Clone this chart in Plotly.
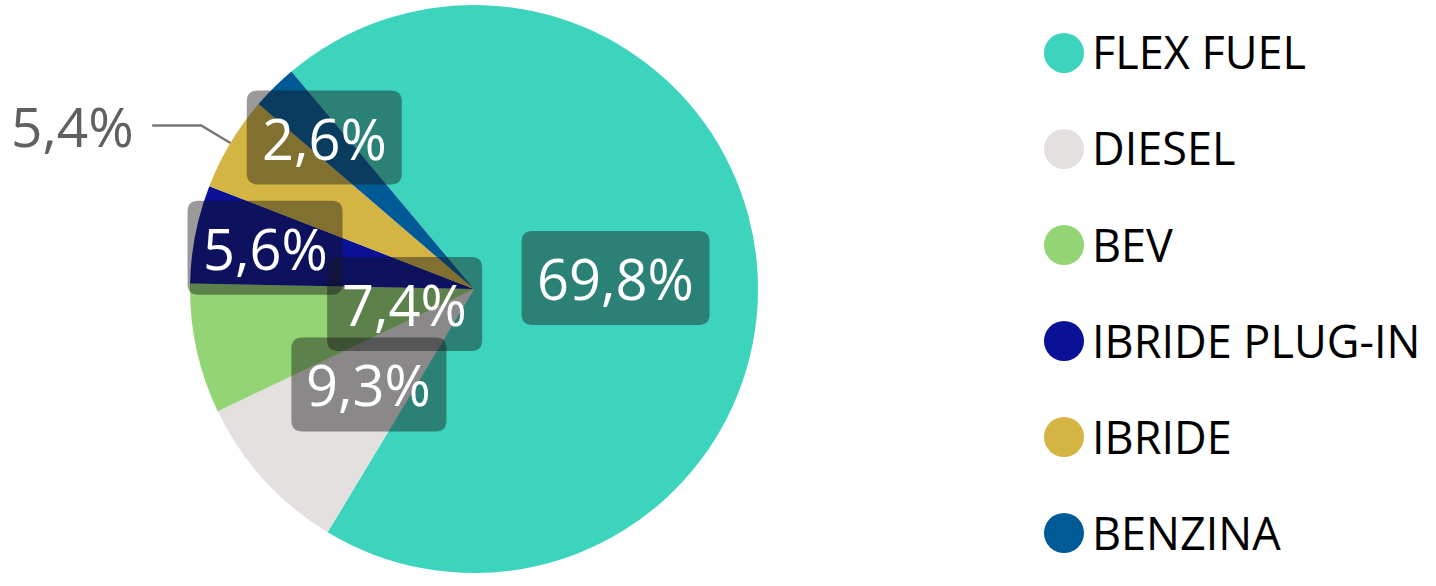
import math
import plotly.graph_objects as go

labels = ["FLEX FUEL", "DIESEL", "BEV", "IBRIDE PLUG-IN", "IBRIDE", "BENZINA"]
values = [69.8, 9.3, 7.4, 5.6, 5.4, 2.6]
pct_text = ["69,8%", "9,3%", "7,4%", "5,6%", "5,4%", "2,6%"]
colors = ["#3DD4BE", "#E3E0DF", "#93D475", "#0A1196", "#D4B544", "#005A96"]

W, H = 1436, 586
pie_x = [0.1323, 0.5279]
pie_y = [0.0222, 0.9915]
start_deg = -40
# label distance from centre as a share of the radius, None = outside with leader line
label_r = [0.5, 0.5, 0.25, 0.75, None, 0.75]

FONT = "Open Sans"
BOX_H = 94
BOX_R = 11

fig = go.Figure()

fig.add_trace(go.Pie(
    labels=labels, values=values,
    marker=dict(colors=colors, line=dict(width=0)),
    sort=False, direction="clockwise", rotation=start_deg,
    textinfo="none", hoverinfo="label+percent",
    domain=dict(x=pie_x, y=pie_y),
    showlegend=False,
))

# legend drawn as a column of big circles
fig.add_trace(go.Scatter(
    x=[0] * len(labels), y=labels,
    mode="markers",
    marker=dict(size=40, color=colors, symbol="circle"),
    cliponaxis=False, hoverinfo="skip", showlegend=False,
    xaxis="x", yaxis="y",
))

# pie geometry in pixels, to place the percentage labels
cx = W * (pie_x[0] + pie_x[1]) / 2
cy = H * (1 - (pie_y[0] + pie_y[1]) / 2)
R = min(W * (pie_x[1] - pie_x[0]), H * (pie_y[1] - pie_y[0])) / 2
total = sum(values)


def to_paper(px, py):
    return px / W, 1 - py / H


def rounded_box(px, py, w, h, r):
    x0, x1, y0, y1 = px - w / 2, px + w / 2, py - h / 2, py + h / 2
    pts = [
        ("M", [(x0 + r, y0)]), ("L", [(x1 - r, y0)]), ("Q", [(x1, y0), (x1, y0 + r)]),
        ("L", [(x1, y1 - r)]), ("Q", [(x1, y1), (x1 - r, y1)]),
        ("L", [(x0 + r, y1)]), ("Q", [(x0, y1), (x0, y1 - r)]),
        ("L", [(x0, y0 + r)]), ("Q", [(x0, y0), (x0 + r, y0)]),
    ]
    out = []
    for cmd, ps in pts:
        coords = " ".join("%.5f,%.5f" % to_paper(a, b) for a, b in ps)
        out.append(f"{cmd} {coords}")
    return " ".join(out) + " Z"


annotations = []
shapes = []
acc = 0
for lab, v, t, f in zip(labels, values, pct_text, label_r):
    mid = math.radians(start_deg + 360 * (acc + v / 2) / total)
    acc += v
    if f is not None:
        px = cx + f * R * math.sin(mid)
        py = cy - f * R * math.cos(mid)
        box_w = 33 * len(t) + 23
        shapes.append(dict(
            type="path", xref="paper", yref="paper", layer="above",
            path=rounded_box(px, py, box_w, BOX_H, BOX_R),
            fillcolor="rgba(20,20,20,0.43)", line=dict(width=0),
        ))
        x, y = to_paper(px, py)
        annotations.append(dict(
            x=x, y=y, xref="paper", yref="paper", text=t, showarrow=False,
            xanchor="center", yanchor="middle",
            font=dict(family=FONT, size=56, color="white"),
        ))
    else:
        x0, y0 = cx + R * math.sin(mid), cy - R * math.cos(mid)
        x1, y1 = cx + 1.12 * R * math.sin(mid), cy - 1.12 * R * math.cos(mid)
        x2 = x1 - 49
        p0, p1, p2 = to_paper(x0, y0), to_paper(x1, y1), to_paper(x2, y1)
        shapes.append(dict(
            type="path", xref="paper", yref="paper",
            path=f"M {p0[0]},{p0[1]} L {p1[0]},{p1[1]} L {p2[0]},{p2[1]}",
            line=dict(color="#777777", width=2.5),
        ))
        tx, ty = to_paper(x2 - 16, y1)
        annotations.append(dict(
            x=tx, y=ty, xref="paper", yref="paper", text=t, showarrow=False,
            xanchor="right", yanchor="middle",
            font=dict(family=FONT, size=55, color="#606060"),
        ))

# legend labels next to the circles
for lab in labels:
    annotations.append(dict(
        x=0, y=lab, xref="x", yref="y", text=lab, showarrow=False,
        xanchor="left", yanchor="middle", xshift=26, yshift=1,
        font=dict(family=FONT, size=45, color="#000000"),
    ))

fig.update_layout(
    width=W, height=H,
    margin=dict(l=0, r=0, t=0, b=0),
    paper_bgcolor="white", plot_bgcolor="white",
    xaxis=dict(domain=[0.7061, 0.7758], range=[-1, 1], visible=False, fixedrange=True),
    yaxis=dict(domain=[0.0085, 0.9915], type="category", categoryorder="array",
               categoryarray=labels, range=[5.5, -0.5], visible=False, fixedrange=True),
    annotations=annotations,
    shapes=shapes,
    font=dict(family=FONT),
)

# drop the browser's default page margin so the figure sits at the window corner
fig.write_html("out.html", config={"displayModeBar": False},
               post_script="document.body.style.margin = '0';")
